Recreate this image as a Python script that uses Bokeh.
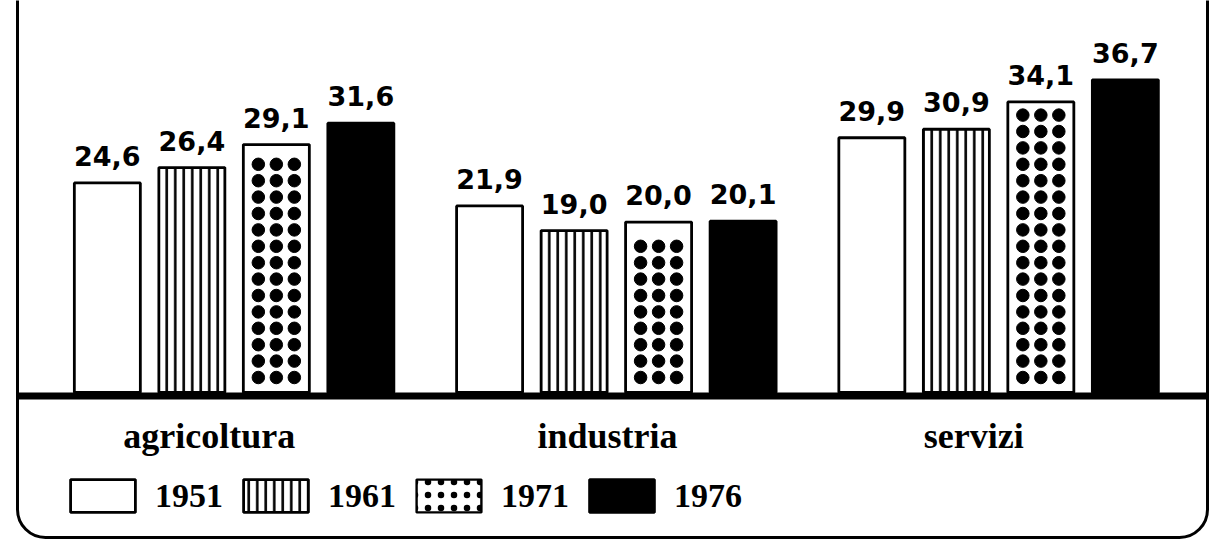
import math
from bokeh.plotting import figure
from bokeh.models import (ColumnDataSource, FactorRange, Range1d, BoxAnnotation, Legend,
                          LegendItem)
from bokeh.transform import dodge
from bokeh.core.properties import value
from bokeh.embed import file_html
from bokeh.resources import INLINE

# ---------------- data ----------------
categories = ["agricoltura", "industria", "servizi"]
years = ["1951", "1961", "1971", "1976"]
v1951 = [24.6, 21.9, 29.9]
v1961 = [26.4, 19.0, 30.9]
v1971 = [29.1, 20.0, 34.1]
v1976 = [31.6, 20.1, 36.7]
series = [v1951, v1961, v1971, v1976]


def fmt(v):
    return f"{v:.1f}".replace(".", ",")


# ---------------- layout constants ----------------
W, H = 1210, 540
PX = 8.52                    # pixels per data unit
BASE = 392                   # pixel row of the zero line
Y1 = BASE / PX
Y0 = -(H - BASE) / PX
STEP = 382.25                # pixels per category
PAD = (W / STEP - 3) / 2     # padding on each side (absolute units)
SHIFT = (233.6 - (PAD + 0.5) * STEP) / STEP
offsets = [-0.3316 + SHIFT, -0.1105 + SHIFT, 0.1105 + SHIFT, 0.3316 + SHIFT]
BAR_W = 66 / STEP

p = figure(width=W, height=H,
           x_range=FactorRange(*categories, range_padding=PAD,
                               range_padding_units="absolute"),
           y_range=Range1d(Y0, Y1),
           x_axis_location=None, y_axis_location=None,
           output_backend="svg", toolbar_location=None, min_border=0)
p.grid.visible = False
p.outline_line_color = None
p.background_fill_color = "white"
p.border_fill_color = "white"

data = dict(cat=categories)
for yr, s in zip(years, series):
    data["v" + yr] = s
    data["l" + yr] = [fmt(v) for v in s]
src = ColumnDataSource(data)

styles = {
    "1951": dict(fill_color="white"),
    "1961": dict(fill_color="white", hatch_pattern="vertical_line", hatch_color="black",
                 hatch_scale=8.5, hatch_weight=2.6),
    "1971": dict(fill_color="white"),
    "1976": dict(fill_color="black"),
}

renderers = {}
for yr, off in zip(years, offsets):
    r = p.vbar(x=dodge("cat", off, range=p.x_range), top="v" + yr, bottom=0,
               width=BAR_W, source=src, line_color="black", line_width=2.8,
               **styles[yr])
    renderers[yr] = r

# dots inside the 1971 bars, derived from the bar heights
dot_cat, dot_y = [], []
for c, v in zip(categories, v1971):
    y = 15 / PX
    while y <= v - 12 / PX:
        dot_cat.append(c)
        dot_y.append(y)
        y += 16.4 / PX
dots = ColumnDataSource(dict(cat=dot_cat, y=dot_y))
for dx in (-18, 0, 18):
    p.scatter(x=dodge("cat", offsets[2] + dx / STEP, range=p.x_range), y="y",
              source=dots, marker="circle", size=12.5, color="black")

# value labels
for yr, off in zip(years, offsets):
    p.text(x=dodge("cat", off, range=p.x_range), y="v" + yr, text="l" + yr,
           source=src, text_align="center", text_baseline="alphabetic",
           y_offset=-27, text_font=value("DejaVu Sans"), text_font_style="bold",
           text_font_size="27px", text_color="black")

# category labels (slightly left of the group centres, as in the original)
label_dx = {"agricoltura": -14, "industria": 2, "servizi": -14}
for c in categories:
    p.text(x=[c], y=[-6.22], text=[c], x_offset=label_dx[c], y_offset=-9,
           text_align="center", text_baseline="alphabetic",
           text_font=value("Liberation Serif"), text_font_style="bold",
           text_font_size="36px", text_color="black")

# baseline and rounded frame
p.add_layout(BoxAnnotation(left=17, right=1207, left_units="screen", right_units="screen",
                           top=0, bottom=-7 / PX,
                           fill_color="black", fill_alpha=1, line_color=None))
p.add_layout(BoxAnnotation(left=17, right=1207, left_units="screen", right_units="screen",
                           top=Y1 + 10, bottom=Y0 + 3 / PX,
                           fill_alpha=0, line_color="black", line_alpha=1,
                           line_width=3, border_radius=28))

# legend
legend_src = ColumnDataSource(dict(cat=["agricoltura"], top=[float("nan")]))
r71_legend = p.vbar(x="cat", top="top", bottom=0, width=0.1, source=legend_src,
                    fill_color="white", line_color="black", line_width=2.4,
                    hatch_pattern="dot", hatch_color="black", hatch_scale=13,
                    hatch_weight=2)
items = [LegendItem(label="1951", renderers=[renderers["1951"]]),
         LegendItem(label="1961", renderers=[renderers["1961"]]),
         LegendItem(label="1971", renderers=[r71_legend]),
         LegendItem(label="1976", renderers=[renderers["1976"]])]
legend = Legend(items=items, orientation="horizontal", location=(62, 24),
                glyph_width=81, glyph_height=41, label_standoff=12, spacing=12,
                padding=0, margin=0, border_line_color=None,
                background_fill_alpha=0, label_height=41, label_width=68,
                label_text_font="Liberation Serif", label_text_font_style="bold",
                label_text_font_size="34px", label_text_color="black")
p.add_layout(legend)

open("out.html", "w").write(file_html(p, INLINE))
